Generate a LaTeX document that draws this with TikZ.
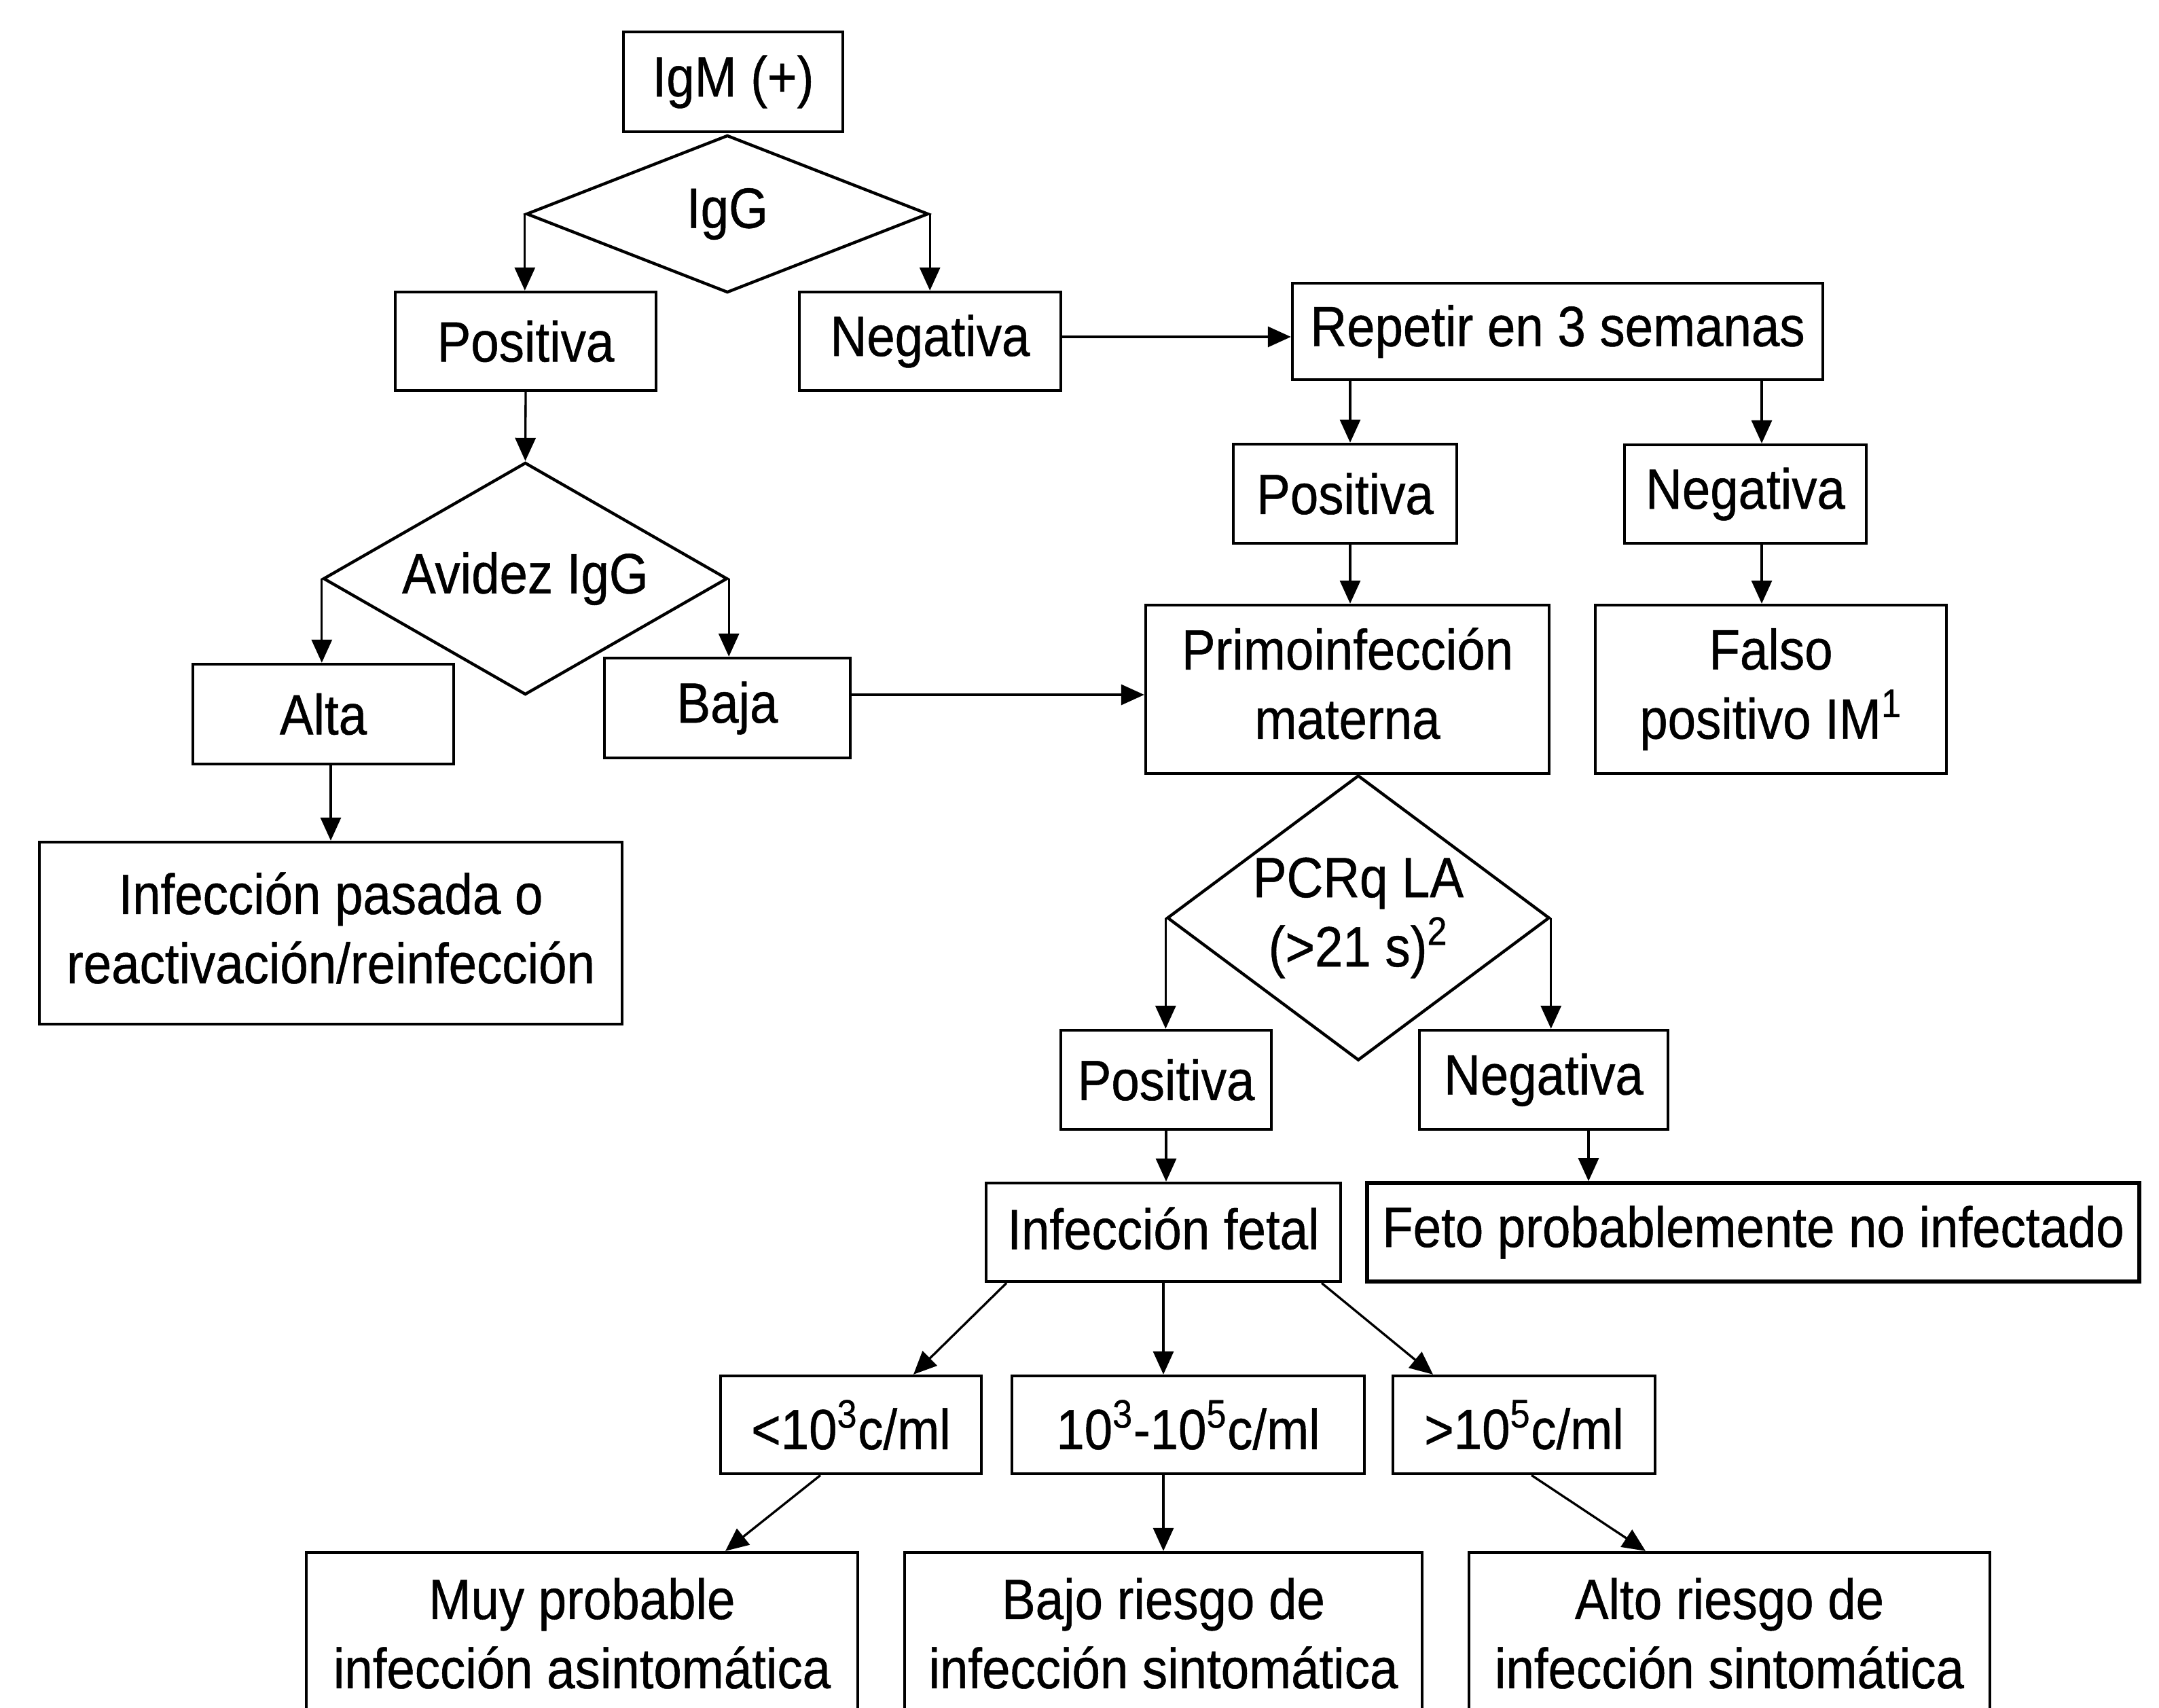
\documentclass[tikz,border=0pt]{standalone}
\usepackage{fontspec}
\setmainfont{Liberation Sans}[FakeStretch=0.89,FakeBold=0.6]
\usetikzlibrary{arrows.meta,shapes.geometric}
\begin{document}
\begin{tikzpicture}[x=1cm,y=1cm,
  txt/.style={font=\fontsize{23.8pt}{29pt}\selectfont, text=black},
  box/.style={txt, draw=black, line width=1.25pt, inner sep=0pt, align=center},
  dia/.style={txt, diamond, draw=black, line width=1.25pt, inner sep=0pt, align=center},
  arr/.style={-{Triangle[length=0.34cm,width=0.30cm]}, line width=0.95pt, draw=black}]
\useasboundingbox (0,0) rectangle (31.79,-25.14);

\node[box, minimum width=3.23cm, minimum height=1.47cm] (igm) at (10.795,-1.205) {IgM (+)};
\node[dia, aspect=2.55, minimum width=5.92cm, minimum height=2.32cm] (igg) at (10.71,-3.15) {IgG};
\node[box, minimum width=3.84cm, minimum height=1.45cm] (pos1) at (7.74,-5.025) {Positiva};
\node[box, minimum width=3.85cm, minimum height=1.45cm] (neg1) at (13.695,-5.025) {Negativa};
\node[box, minimum width=7.81cm, minimum height=1.42cm] (rep) at (22.935,-4.88) {Repetir en 3 semanas};
\node[box, minimum width=3.29cm, minimum height=1.46cm] (pos2) at (19.805,-7.27) {Positiva};
\node[box, minimum width=3.56cm, minimum height=1.45cm] (neg2) at (25.70,-7.275) {Negativa};
\node[dia, aspect=1.74, minimum width=5.95cm, minimum height=3.42cm] (avid) at (7.735,-8.52) {Avidez IgG};
\node[box, minimum width=3.84cm, minimum height=1.47cm] (alta) at (4.76,-10.515) {Alta};
\node[box, minimum width=3.62cm, minimum height=1.47cm] (baja) at (10.71,-10.425) {Baja};
\node[box, text depth=0.18cm, minimum width=5.94cm, minimum height=2.48cm] (primo) at (19.84,-10.15) {Primoinfección\\materna};
\node[box, minimum width=5.17cm, minimum height=2.48cm] (falso) at (26.075,-10.15) {Falso\\positivo IM\textsuperscript{1}};
\node[box, text depth=0.16cm, minimum width=8.58cm, minimum height=2.68cm] (pasada) at (4.87,-13.74) {Infección pasada o\\reactivación/reinfección};
\node[dia, aspect=1.34, minimum width=5.63cm, minimum height=4.20cm] (pcr) at (20.0,-13.515) {PCRq LA\\(>21 s)\textsuperscript{2}};
\node[box, minimum width=3.10cm, minimum height=1.46cm] (pos3) at (17.17,-15.90) {Positiva};
\node[box, minimum width=3.66cm, minimum height=1.46cm] (neg3) at (22.73,-15.90) {Negativa};
\node[box, text depth=0.12cm, minimum width=5.22cm, minimum height=1.45cm] (fetal) at (17.13,-18.145) {Infección fetal};
\node[box, line width=1.6pt, minimum width=11.37cm, minimum height=1.45cm] (feto) at (25.815,-18.145) {Feto probablemente no infectado};
\node[box, minimum width=3.84cm, minimum height=1.44cm] (c1) at (12.53,-20.98) {<10\textsuperscript{3}c/ml};
\node[box, minimum width=5.19cm, minimum height=1.44cm] (c2) at (17.495,-20.98) {10\textsuperscript{3}-10\textsuperscript{5}c/ml};
\node[box, minimum width=3.86cm, minimum height=1.44cm] (c3) at (22.44,-20.98) {>10\textsuperscript{5}c/ml};
\node[box, minimum width=8.12cm, minimum height=2.38cm] (r1) at (8.57,-24.05) {Muy probable\\infección asintomática};
\node[box, minimum width=7.62cm, minimum height=2.38cm] (r2) at (17.13,-24.05) {Bajo riesgo de\\infección sintomática};
\node[box, minimum width=7.67cm, minimum height=2.38cm] (r3) at (25.465,-24.05) {Alto riesgo de\\infección sintomática};

\coordinate (hy1) at (0,-4.96);
\coordinate (hy2) at (0,-10.23);
\coordinate (hx1) at (19.88,0);
\coordinate (hx2) at (25.94,0);
\coordinate (hx3) at (23.39,0);
\coordinate (hx4) at (14.82,0);
\coordinate (hx5) at (13.45,0);
\coordinate (hx6) at (19.46,0);
\coordinate (hx7) at (21.10,0);
\coordinate (hx8) at (12.08,0);
\coordinate (hx9) at (10.68,0);
\coordinate (hx10) at (22.55,0);
\coordinate (hx11) at (24.23,0);

\draw[arr] (igg.west) -- (igg.west |- pos1.north);
\draw[arr] (igg.east) -- (igg.east |- neg1.north);
\draw[arr] (neg1.east |- hy1) -- (rep.west |- hy1);
\draw[arr] (pos1.south) -- (avid.north);
\draw[arr] (avid.west) -- (avid.west |- alta.north);
\draw[arr] (avid.east) -- (avid.east |- baja.north);
\draw[arr] (baja.east |- hy2) -- (primo.west |- hy2);
\draw[arr] (alta.south -| pasada.north) -- (pasada.north);
\draw[arr] (rep.south -| hx1) -- (pos2.north -| hx1);
\draw[arr] (rep.south -| hx2) -- (neg2.north -| hx2);
\draw[arr] (pos2.south -| hx1) -- (primo.north -| hx1);
\draw[arr] (neg2.south -| hx2) -- (falso.north -| hx2);
\draw[arr] (pcr.west) -- (pcr.west |- pos3.north);
\draw[arr] (pcr.east) -- (pcr.east |- neg3.north);
\draw[arr] (pos3.south) -- (pos3.south |- fetal.north);
\draw[arr] (neg3.south -| hx3) -- (feto.north -| hx3);
\draw[arr] (fetal.south -| hx4) -- (c1.north -| hx5);
\draw[arr] (fetal.south) -- (fetal.south |- c2.north);
\draw[arr] (fetal.south -| hx6) -- (c3.north -| hx7);
\draw[arr] (c1.south -| hx8) -- (r1.north -| hx9);
\draw[arr] (r2.north |- c2.south) -- (r2.north);
\draw[arr] (c3.south -| hx10) -- (r3.north -| hx11);
\end{tikzpicture}
\end{document}
